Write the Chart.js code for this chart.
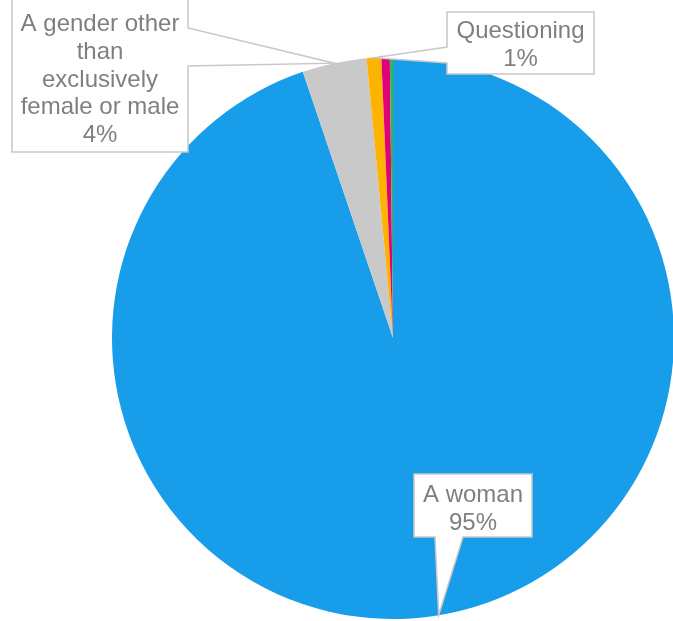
<!DOCTYPE html>
<html>
<head>
<meta charset="utf-8">
<script src="https://cdn.jsdelivr.net/npm/chart.js@4"></script>
<style>
  html, body { margin: 0; padding: 0; background: #fff; overflow: hidden; }
  #wrap { width: 676px; height: 621px; }
</style>
</head>
<body>
<div id="wrap"><canvas class="js-gender-pie" width="676" height="621"></canvas></div>
<script>
const categories = ["A woman", "A gender other than exclusively female or male", "Questioning", "A man", "Prefer not to say"];
const values = [94.8, 3.7, 0.84, 0.48, 0.18];
const percentLabels = ["95%", "4%", "1%", "", ""];
const labelLines = [["A woman"], ["A gender other", "than", "exclusively", "female or male"], ["Questioning"], [], []];
const colors = ["#189dea", "#c9c9c9", "#fdb400", "#e2007a", "#3cb44b"];

// where each callout box sits and which side its pointer leaves from
const callouts = [
  { index: 0, box: [414, 474, 118, 63], side: "bottom", base: [435, 463], shift: 4 },
  { index: 1, box: [12, -4, 176, 156], side: "right", base: [28, 66], shift: 6 },
  { index: 2, box: [447, 12, 147, 62], side: "left", base: [47, 63], shift: 2.5 },
];

const calloutPlugin = {
  id: "callouts",
  afterDraw(chart) {
    const ctx = chart.ctx;
    const arcs = chart.getDatasetMeta(0).data;
    ctx.save();
    callouts.forEach((c) => {
      const arc = arcs[c.index];
      const mid = (arc.startAngle + arc.endAngle) / 2;
      const tx = arc.x + Math.cos(mid) * arc.outerRadius;
      const ty = arc.y + Math.sin(mid) * arc.outerRadius;
      const [x, y, w, h] = c.box;
      ctx.beginPath();
      ctx.moveTo(x, y);
      if (c.side === "right") {
        ctx.lineTo(x + w, y);
        ctx.lineTo(x + w, c.base[0]);
        ctx.lineTo(tx, ty);
        ctx.lineTo(x + w, c.base[1]);
        ctx.lineTo(x + w, y + h);
        ctx.lineTo(x, y + h);
      } else if (c.side === "bottom") {
        ctx.lineTo(x + w, y);
        ctx.lineTo(x + w, y + h);
        ctx.lineTo(c.base[1], y + h);
        ctx.lineTo(tx, ty);
        ctx.lineTo(c.base[0], y + h);
        ctx.lineTo(x, y + h);
      } else {
        ctx.lineTo(x + w, y);
        ctx.lineTo(x + w, y + h);
        ctx.lineTo(x, y + h);
        ctx.lineTo(x, c.base[1]);
        ctx.lineTo(tx, ty);
        ctx.lineTo(x, c.base[0]);
      }
      ctx.closePath();
      ctx.fillStyle = "#ffffff";
      ctx.fill();
      ctx.lineWidth = 1.5;
      ctx.strokeStyle = "#c8c8c8";
      ctx.stroke();

      const lines = labelLines[c.index].concat([percentLabels[c.index]]);
      const lh = 27.8;
      const cy = y + h / 2 + c.shift;
      ctx.fillStyle = "#827e7e";
      ctx.font = '24px "Liberation Sans", Arial, sans-serif';
      ctx.textAlign = "center";
      ctx.textBaseline = "middle";
      lines.forEach((t, i) => {
        ctx.fillText(t, x + w / 2, cy + (i - (lines.length - 1) / 2) * lh);
      });
    });
    ctx.restore();
  },
};

const el = document.querySelector(".js-gender-pie");
new Chart(el.getContext("2d"), {
  type: "pie",
  data: {
    labels: categories,
    datasets: [
      {
        data: values,
        backgroundColor: colors,
        borderWidth: 0,
      },
    ],
  },
  options: {
    responsive: false,
    maintainAspectRatio: false,
    animation: false,
    layout: { padding: { left: 112, right: 2, top: 57, bottom: 2 } },
    plugins: {
      legend: { display: false },
      tooltip: { enabled: false },
    },
  },
  plugins: [calloutPlugin],
});
</script>
</body>
</html>
